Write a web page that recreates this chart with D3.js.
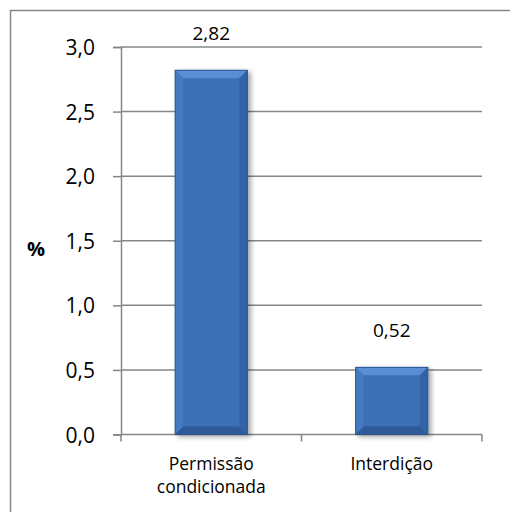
<!DOCTYPE html>
<html><head><meta charset="utf-8">
<script src="https://cdn.jsdelivr.net/npm/d3@7"></script>
<style>
html,body{margin:0;padding:0;background:#fff;}
svg{display:block;font-family:"Open Sans","Noto Sans",sans-serif;}
</style></head>
<body>
<svg id="chart" width="510" height="512"></svg>
<script>
const categories = ["Permissão condicionada", "Interdição"];
const categoryLines = [["Permissão", "condicionada"], ["Interdição"]];
const values = [2.82, 0.52];
const valueLabels = ["2,82", "0,52"];
const yTicks = [0, 0.5, 1.0, 1.5, 2.0, 2.5, 3.0];
const yTickLabels = ["0,0", "0,5", "1,0", "1,5", "2,0", "2,5", "3,0"];
const yAxisTitle = "%";

const svg = d3.select("#chart");
const m = {left: 121, right: 482, top: 47, bottom: 434.5};

svg.append("rect").attr("x", 10.5).attr("y", 10.5).attr("width", 520).attr("height", 520)
  .attr("fill", "none").attr("stroke", "#868686").attr("stroke-width", 1.5);

const x = d3.scaleBand().domain(categories).range([m.left, m.right]).paddingInner(0.6).paddingOuter(0.3);
const xOuter = d3.scaleBand().domain(categories).range([m.left, m.right]);
const y = d3.scaleLinear().domain([0, 3]).range([m.bottom, m.top]);

svg.append("g").selectAll("line").data(yTicks.filter(d => d > 0)).join("line")
  .attr("x1", m.left).attr("x2", m.right).attr("y1", d => y(d)).attr("y2", d => y(d))
  .attr("stroke", "#868686").attr("stroke-width", 1.5);

const yAxis = d3.axisLeft(y).tickValues(yTicks).tickFormat((d, i) => yTickLabels[i]).tickSize(8).tickPadding(18);
const gy = svg.append("g").attr("transform", `translate(${m.left},0)`).call(yAxis);
gy.attr("font-size", null).attr("font-family", null);
gy.select(".domain").attr("stroke", "#868686").attr("stroke-width", 1.5);
gy.selectAll(".tick line").attr("stroke", "#868686").attr("stroke-width", 1.5);
gy.selectAll(".tick text").style("font-size", "21px").attr("fill", "#000").attr("dy", "0.36em");

const gx = svg.append("g").attr("transform", `translate(0,${m.bottom})`);
gx.append("line").attr("x1", m.left).attr("x2", m.right).attr("stroke", "#868686").attr("stroke-width", 1.5);
const xTickPos = [m.left].concat(categories.map(c => xOuter(c) + xOuter.bandwidth()));
gx.selectAll("line.tk").data(xTickPos).join("line").attr("class", "tk")
  .attr("x1", d => d).attr("x2", d => d).attr("y1", 0).attr("y2", 7)
  .attr("stroke", "#868686").attr("stroke-width", 1.5);
categories.forEach((c, i) => {
  const cx = xOuter(c) + xOuter.bandwidth() / 2;
  const t = gx.append("text").attr("x", cx).attr("y", 35.5)
    .attr("text-anchor", "middle").style("font-size", "17.5px").attr("fill", "#000");
  categoryLines[i].forEach((ln, j) => t.append("tspan").attr("x", cx).attr("dy", j === 0 ? 0 : 22.5).text(ln));
});

svg.append("text").attr("x", 36).attr("y", 256).attr("text-anchor", "middle")
  .style("font-size", "20px").attr("font-weight", "bold").text(yAxisTitle);

const defs = svg.append("defs");
const f = defs.append("filter").attr("id", "sh").attr("x", "-20%").attr("y", "-20%").attr("width", "140%").attr("height", "140%");
f.append("feGaussianBlur").attr("in", "SourceAlpha").attr("stdDeviation", 2.5);
f.append("feOffset").attr("dx", 3).attr("dy", 2).attr("result", "b");
f.append("feComponentTransfer").append("feFuncA").attr("type", "linear").attr("slope", 0.35);
const mg = f.append("feMerge"); mg.append("feMergeNode"); mg.append("feMergeNode").attr("in", "SourceGraphic");

const bars = svg.append("g");
categories.forEach((c, i) => {
  const x0 = x(c), x1 = x(c) + x.bandwidth(), y0 = y(values[i]), y1 = y(0);
  const b = 8;
  const g = bars.append("g").attr("filter", "url(#sh)");
  g.append("rect").attr("x", x0).attr("y", y0).attr("width", x1 - x0).attr("height", y1 - y0).attr("fill", "#3b6fb5");
  const poly = (pts, col) => g.append("polygon").attr("points", pts.map(p => p.join(",")).join(" ")).attr("fill", col);
  poly([[x0, y0], [x1, y0], [x1 - b, y0 + b], [x0 + b, y0 + b]], "#5a8ed4");
  poly([[x0, y0], [x0 + b, y0 + b], [x0 + b, y1 - b], [x0, y1]], "#4579c0");
  poly([[x1, y0], [x1 - b, y0 + b], [x1 - b, y1 - b], [x1, y1]], "#3164a8");
  poly([[x0, y1], [x0 + b, y1 - b], [x1 - b, y1 - b], [x1, y1]], "#2d5a98");
  g.append("rect").attr("x", x0).attr("y", y0).attr("width", x1 - x0).attr("height", y1 - y0)
    .attr("fill", "none").attr("stroke", "#2b5590").attr("stroke-width", 1);
  svg.append("text").attr("x", (x0 + x1) / 2).attr("y", y0 - 30).attr("text-anchor", "middle")
    .style("font-size", "19px").attr("fill", "#000").text(valueLabels[i]);
});
</script>
</body></html>
